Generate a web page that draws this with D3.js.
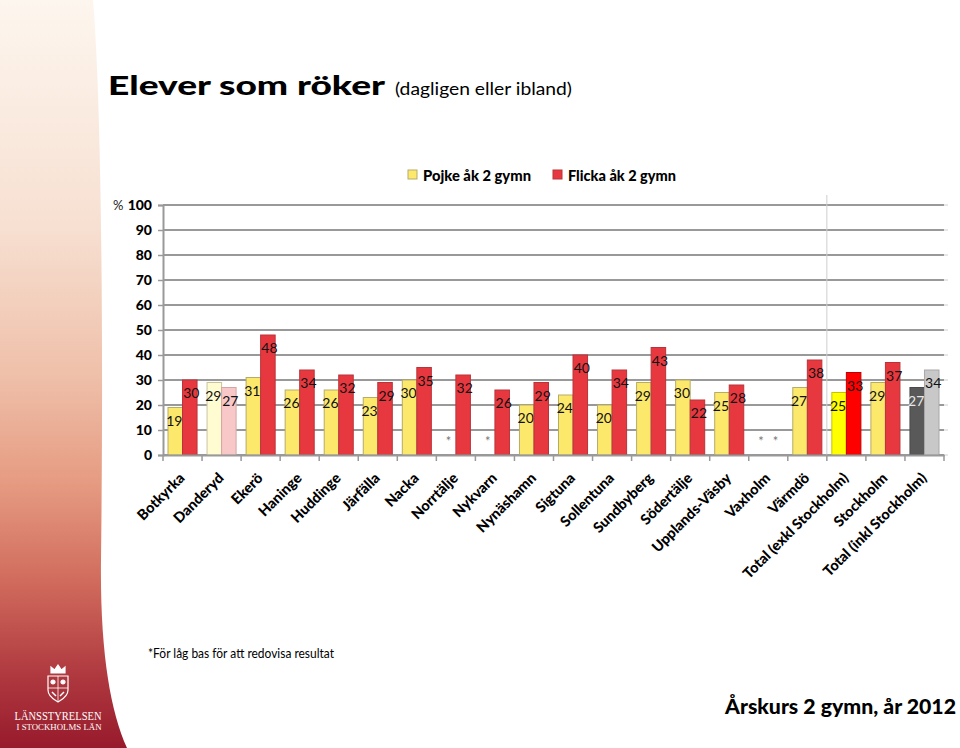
<!DOCTYPE html>
<html>
<head>
<meta charset="utf-8">
<script src="https://cdn.jsdelivr.net/npm/d3@7"></script>
<style>
  body { margin: 0; background: #fff; }
  svg text { font-family: Lato, "Open Sans", sans-serif; }
</style>
</head>
<body>
<div class="chart"></div>
<script>
// data
var categories = ["Botkyrka", "Danderyd", "Ekerö", "Haninge", "Huddinge", "Järfälla", "Nacka",
    "Norrtälje", "Nykvarn", "Nynäshamn", "Sigtuna", "Sollentuna", "Sundbyberg", "Södertälje",
    "Upplands-Väsby", "Vaxholm", "Värmdö", "Total (exkl Stockholm)", "Stockholm", "Total (inkl Stockholm)"];
var pojke = [19, 29, 31, 26, 26, 23, 30, null, null, 20, 24, 20, 29, 30, 25, null, 27, 25, 29, 27];
var flicka = [30, 27, 48, 34, 32, 29, 35, 32, 26, 29, 40, 34, 43, 22, 28, null, 38, 33, 37, 34];
var seriesNames = ["Pojke åk 2 gymn", "Flicka åk 2 gymn"];
var yTicks = [0, 10, 20, 30, 40, 50, 60, 70, 80, 90, 100];

var svgWidth = 960;
var svgHeight = 748;

// bar colours: default and a few categories drawn differently
var colors = {
    pojke: { fill: "#fce96c", stroke: "#b5ab6a" },
    flicka: { fill: "#e8383f", stroke: "#b8343a" }
};
var special = {
    "Danderyd": [{ fill: "#fffcd2", stroke: "#c9c3a2" }, { fill: "#f8c7c7", stroke: "#d5a5a5" }],
    "Total (exkl Stockholm)": [{ fill: "#ffff00", stroke: "#c8c200" }, { fill: "#ff0000", stroke: "#c00000" }],
    "Total (inkl Stockholm)": [{ fill: "#595959", stroke: "#4a4a4a" }, { fill: "#c8c8c8", stroke: "#a8a8a8" }]
};

var svg = d3.select(".chart")
    .append("svg")
    .attr("width", svgWidth)
    .attr("height", svgHeight);

// left decorative strip
var defs = svg.append("defs");
var grad = defs.append("linearGradient")
    .attr("id", "strip")
    .attr("x1", 0).attr("y1", 0).attr("x2", 0).attr("y2", 1);
[["0", "#fdf6ee"], ["0.3", "#f7e0d2"], ["0.5", "#efc0aa"], ["0.65", "#e59a80"],
 ["0.78", "#d06a5c"], ["0.9", "#b03a40"], ["1", "#971a2c"]].forEach(function(s) {
    grad.append("stop").attr("offset", s[0]).attr("stop-color", s[1]);
});
svg.append("path")
    .attr("d", "M0,0 L93,0 C103,120 103,400 101,560 C100,650 110,710 127,748 L0,748 Z")
    .attr("fill", "url(#strip)");

// crest (simple)
var crest = svg.append("g").attr("transform", "translate(58,686)").attr("fill", "none")
    .attr("stroke", "#fff").attr("stroke-width", 1.2);
crest.append("path").attr("d", "M-7,-13 L-7,-19 L-3.5,-16 L0,-21 L3.5,-16 L7,-19 L7,-13 Z").attr("fill", "#fff");
crest.append("path").attr("d", "M-10,-10 L10,-10 L10,4 C10,11 3,14 0,16 C-3,14 -10,11 -10,4 Z");
crest.append("path").attr("d", "M0,-10 L0,16 M-10,2 L10,2").attr("stroke-width", 0.8);
crest.append("circle").attr("cx", -5).attr("cy", -4).attr("r", 2).attr("fill", "#fff");
crest.append("circle").attr("cx", 5).attr("cy", -4).attr("r", 2).attr("fill", "#fff");
crest.append("path").attr("d", "M-6,6 L-2,10 M6,6 L2,10").attr("stroke-width", 1.5);

svg.append("text").attr("x", 58).attr("y", 720).attr("text-anchor", "middle")
    .attr("textLength", 87).attr("lengthAdjust", "spacingAndGlyphs")
    .style("font-family", "'Liberation Serif', serif").style("font-size", "11.5px")
    .attr("fill", "#fff").text("LÄNSSTYRELSEN");
svg.append("text").attr("x", 59).attr("y", 730).attr("text-anchor", "middle")
    .attr("textLength", 85).attr("lengthAdjust", "spacingAndGlyphs")
    .style("font-family", "'Liberation Serif', serif").style("font-size", "9px")
    .attr("fill", "#fff").text("I STOCKHOLMS LÄN");

// title
svg.append("text").attr("x", 108).attr("y", 95)
    .attr("textLength", 277).attr("lengthAdjust", "spacingAndGlyphs")
    .style("font-size", "27px").style("font-weight", "900")
    .text("Elever som röker");
svg.append("text").attr("x", 395).attr("y", 95)
    .attr("textLength", 177).attr("lengthAdjust", "spacingAndGlyphs")
    .style("font-size", "17px")
    .text("(dagligen eller ibland)");

// chart area
var margin = { top: 205, left: 163 };
var width = 944 - 163;
var height = 455 - 205;

var chartGroup = svg.append("g")
    .attr("transform", `translate(${margin.left}, ${margin.top})`);

var xScale = d3.scaleBand()
    .domain(categories)
    .range([0, width])
    .paddingInner(0)
    .paddingOuter(0);

var xInner = d3.scaleBand()
    .domain([0, 1])
    .range([5, xScale.bandwidth() - 5]);

var yScale = d3.scaleLinear()
    .domain([0, 100])
    .range([height, 0]);

// gridlines
chartGroup.selectAll(".grid")
    .data(yTicks)
    .enter()
    .append("line")
    .attr("x1", 0)
    .attr("x2", width)
    .attr("y1", d => yScale(d))
    .attr("y2", d => yScale(d))
    .attr("stroke", "#999")
    .attr("stroke-width", 2);

// small ticks on the right side
chartGroup.selectAll(".rtick")
    .data(yTicks)
    .enter()
    .append("line")
    .attr("x1", width)
    .attr("x2", width + 4)
    .attr("y1", d => yScale(d))
    .attr("y2", d => yScale(d))
    .attr("stroke", "#d0d0d0")
    .attr("stroke-width", 1);

// separator before totals
var sepX = xScale("Total (exkl Stockholm)");
chartGroup.append("line")
    .attr("x1", sepX).attr("x2", sepX)
    .attr("y1", -10).attr("y2", height)
    .attr("stroke", "#cfcfcf")
    .attr("stroke-width", 1);

// left axis
var leftAxis = d3.axisLeft(yScale).tickValues(yTicks).tickSize(5).tickPadding(6);
var yAxisG = chartGroup.append("g").call(leftAxis);
yAxisG.select(".domain").attr("stroke", "#999").attr("stroke-width", 2);
yAxisG.selectAll(".tick line").attr("stroke", "#999").attr("stroke-width", 1.5);
yAxisG.selectAll(".tick text")
    .style("font-family", "Lato, sans-serif")
    .style("font-size", "14px")
    .style("font-weight", "900")
    .attr("fill", "#000");
svg.append("text").attr("x", 113).attr("y", 210)
    .style("font-size", "13px").attr("fill", "#222").text("%");

// bars
var rows = categories.map(function(c, i) {
    return { cat: c, vals: [pojke[i], flicka[i]] };
});

var groups = chartGroup.selectAll(".cat")
    .data(rows)
    .enter()
    .append("g")
    .attr("transform", d => `translate(${xScale(d.cat)},0)`);

groups.each(function(d) {
    var g = d3.select(this);
    d.vals.forEach(function(v, k) {
        var style = special[d.cat] ? special[d.cat][k] : (k === 0 ? colors.pojke : colors.flicka);
        var cx = xInner(k) + xInner.bandwidth() / 2;
        if (v === null) {
            g.append("text")
                .attr("x", cx)
                .attr("y", yScale(0) - 9)
                .attr("text-anchor", "middle")
                .style("font-size", "13px")
                .attr("fill", "#777")
                .text("*");
            return;
        }
        g.append("rect")
            .attr("x", xInner(k))
            .attr("y", yScale(v))
            .attr("width", xInner.bandwidth())
            .attr("height", yScale(0) - yScale(v))
            .attr("fill", style.fill)
            .attr("stroke", style.stroke)
            .attr("stroke-width", 1);
        g.append("text")
            .attr("x", cx + (k === 0 ? -1 : 1.5))
            .attr("y", yScale(v) + 18)
            .attr("text-anchor", "middle")
            .style("font-size", "14px")
            .attr("fill", d.cat === "Total (inkl Stockholm)" && k === 0 ? "#e8e8e8" : "#111")
            .text(v);
    });
});

// bottom axis
var bottomAxis = d3.axisBottom(xScale).tickSize(0).tickFormat("");
var xAxisG = chartGroup.append("g")
    .attr("transform", `translate(0, ${height})`)
    .call(bottomAxis);
xAxisG.select(".domain").attr("stroke", "#999").attr("stroke-width", 2);
chartGroup.selectAll(".xtick")
    .data(d3.range(categories.length + 1))
    .enter()
    .append("line")
    .attr("x1", i => i * xScale.step())
    .attr("x2", i => i * xScale.step())
    .attr("y1", height)
    .attr("y2", height + 6)
    .attr("stroke", "#999")
    .attr("stroke-width", 1.5);

chartGroup.selectAll(".xlabel")
    .data(categories)
    .enter()
    .append("text")
    .attr("transform", d => `translate(${xScale(d) + xScale.bandwidth() / 2 + 3}, ${height + 24}) rotate(-45)`)
    .attr("text-anchor", "end")
    .style("font-size", "14.5px")
    .style("font-weight", "900")
    .attr("fill", "#000")
    .text(d => d);

// legend
var legend = svg.append("g").attr("transform", "translate(408,170)");
var legendX = [0, 145];
seriesNames.forEach(function(name, k) {
    legend.append("rect")
        .attr("x", legendX[k])
        .attr("y", 0)
        .attr("width", 9)
        .attr("height", 9)
        .attr("fill", k === 0 ? colors.pojke.fill : colors.flicka.fill)
        .attr("stroke", k === 0 ? colors.pojke.stroke : colors.flicka.stroke);
    legend.append("text")
        .attr("x", legendX[k] + 15)
        .attr("y", 11)
        .attr("textLength", 108)
        .attr("lengthAdjust", "spacingAndGlyphs")
        .style("font-size", "15.5px")
        .style("font-weight", "900")
        .attr("fill", "#000")
        .text(name);
});

// notes
svg.append("text").attr("x", 148).attr("y", 658)
    .attr("textLength", 186).attr("lengthAdjust", "spacingAndGlyphs")
    .style("font-size", "12.5px").attr("fill", "#000")
    .text("*För låg bas för att redovisa resultat");
svg.append("text").attr("x", 725).attr("y", 714)
    .attr("textLength", 231).attr("lengthAdjust", "spacingAndGlyphs")
    .style("font-size", "20px").style("font-weight", "900").attr("fill", "#000")
    .text("Årskurs 2 gymn, år 2012");
</script>
</body>
</html>
